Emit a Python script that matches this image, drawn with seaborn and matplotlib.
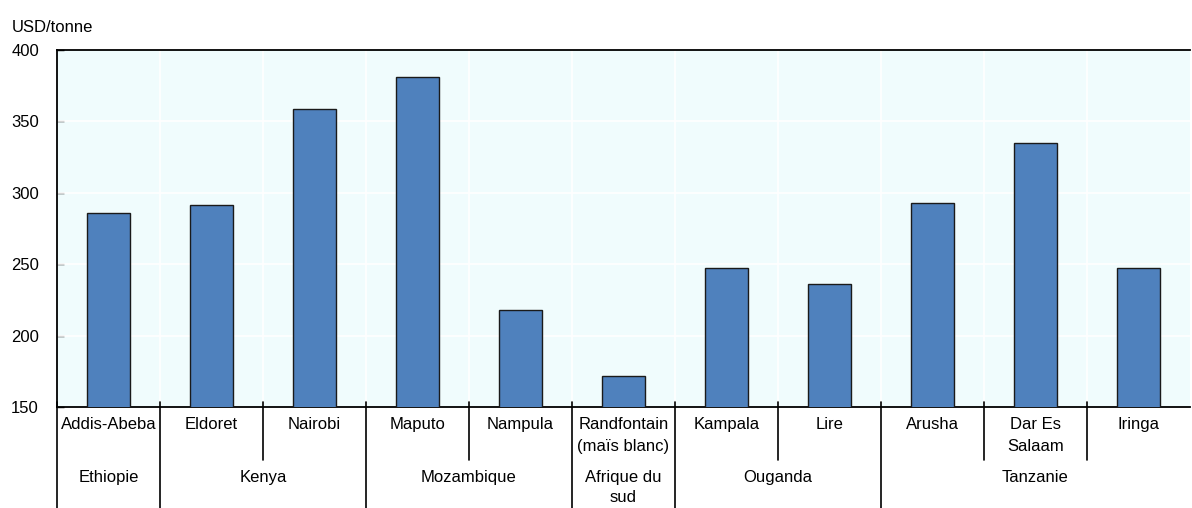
import matplotlib
matplotlib.use("Agg")
import matplotlib.pyplot as plt
import matplotlib.transforms as mtransforms
import seaborn as sns
import pandas as pd

cities = ["Addis-Abeba", "Eldoret", "Nairobi", "Maputo", "Nampula",
          "Randfontain\n(maïs blanc)", "Kampala", "Lire", "Arusha",
          "Dar Es\nSalaam", "Iringa"]
values = [286, 291.5, 359, 381, 218, 172, 247.5, 236, 293, 335, 247.5]
countries = ["Ethiopie", "Kenya", "Mozambique", "Afrique du\nsud", "Ouganda", "Tanzanie"]
country_sizes = [1, 2, 2, 1, 2, 3]
yticks = [150, 200, 250, 300, 350, 400]
ylabel = "USD/tonne"

sns.set_theme(style="white")
plt.rcParams["font.family"] = ["Liberation Sans", "DejaVu Sans"]

W, H = 1192, 508
fig = plt.figure(figsize=(W / 100, H / 100), dpi=100)
L, R, T, B = 57, 1190, 50, 407
ax = fig.add_axes([L / W, 1 - B / H, (R - L) / W, (B - T) / H])
ax.set_facecolor("#F0FCFD")

df = pd.DataFrame({"city": cities, "value": values})
sns.barplot(data=df, x="city", y="value", color="#4F81BD", width=0.41,
            edgecolor="#1a1a1a", linewidth=1.0, saturation=1, ax=ax, zorder=3)

n = len(cities)
ax.set_xlim(-0.5, n - 0.5)
ax.set_ylim(yticks[0], yticks[-1])
ax.set_yticks(yticks)
ax.set_xticks([])
ax.set_xlabel("")
ax.set_ylabel("")
ax.tick_params(axis="y", direction="in", length=5, width=1, color="black",
               labelsize=12, pad=13, left=True)
for lab in ax.get_yticklabels():
    lab.set_color("black")

# grid
for yv in yticks[1:-1]:
    ax.axhline(yv, color="white", lw=1.2, zorder=1)
for i in range(n - 1):
    ax.axvline(i + 0.5, color="white", lw=1.2, zorder=1)

for side in ["left", "bottom", "top"]:
    ax.spines[side].set_visible(True)
    ax.spines[side].set_color("black")
    ax.spines[side].set_linewidth(1.3)
ax.spines["right"].set_visible(False)

trans = mtransforms.blended_transform_factory(ax.transData, ax.transAxes)
ph = B - T
def ay(px):
    return (B - px) / ph

# separators
bounds_country = [-0.5]
acc = 0
for s in country_sizes[:-1]:
    acc += s
    bounds_country.append(acc - 0.5)
for xb in bounds_country:
    ax.plot([xb, xb], [ay(402), ay(508)], transform=trans, color="black",
            lw=1.2, clip_on=False, zorder=5)
for i in range(n - 1):
    xb = i + 0.5
    if xb not in bounds_country:
        ax.plot([xb, xb], [ay(402), ay(460)], transform=trans, color="black",
                lw=1.2, clip_on=False, zorder=5)

# city labels
for i, c in enumerate(cities):
    ax.text(i, ay(417), c, transform=trans, ha="center", va="top",
            fontsize=12, linespacing=1.55, color="black")

# country labels
start = 0
for c, s in zip(countries, country_sizes):
    xc = start + (s - 1) / 2
    ax.text(xc, ay(470), c, transform=trans, ha="center", va="top",
            fontsize=12, linespacing=1.45, color="black")
    start += s

fig.text(12 / W, 1 - 27 / H, ylabel, ha="left", va="center", fontsize=12,
         color="black")

fig.savefig("out.png", dpi=100)
